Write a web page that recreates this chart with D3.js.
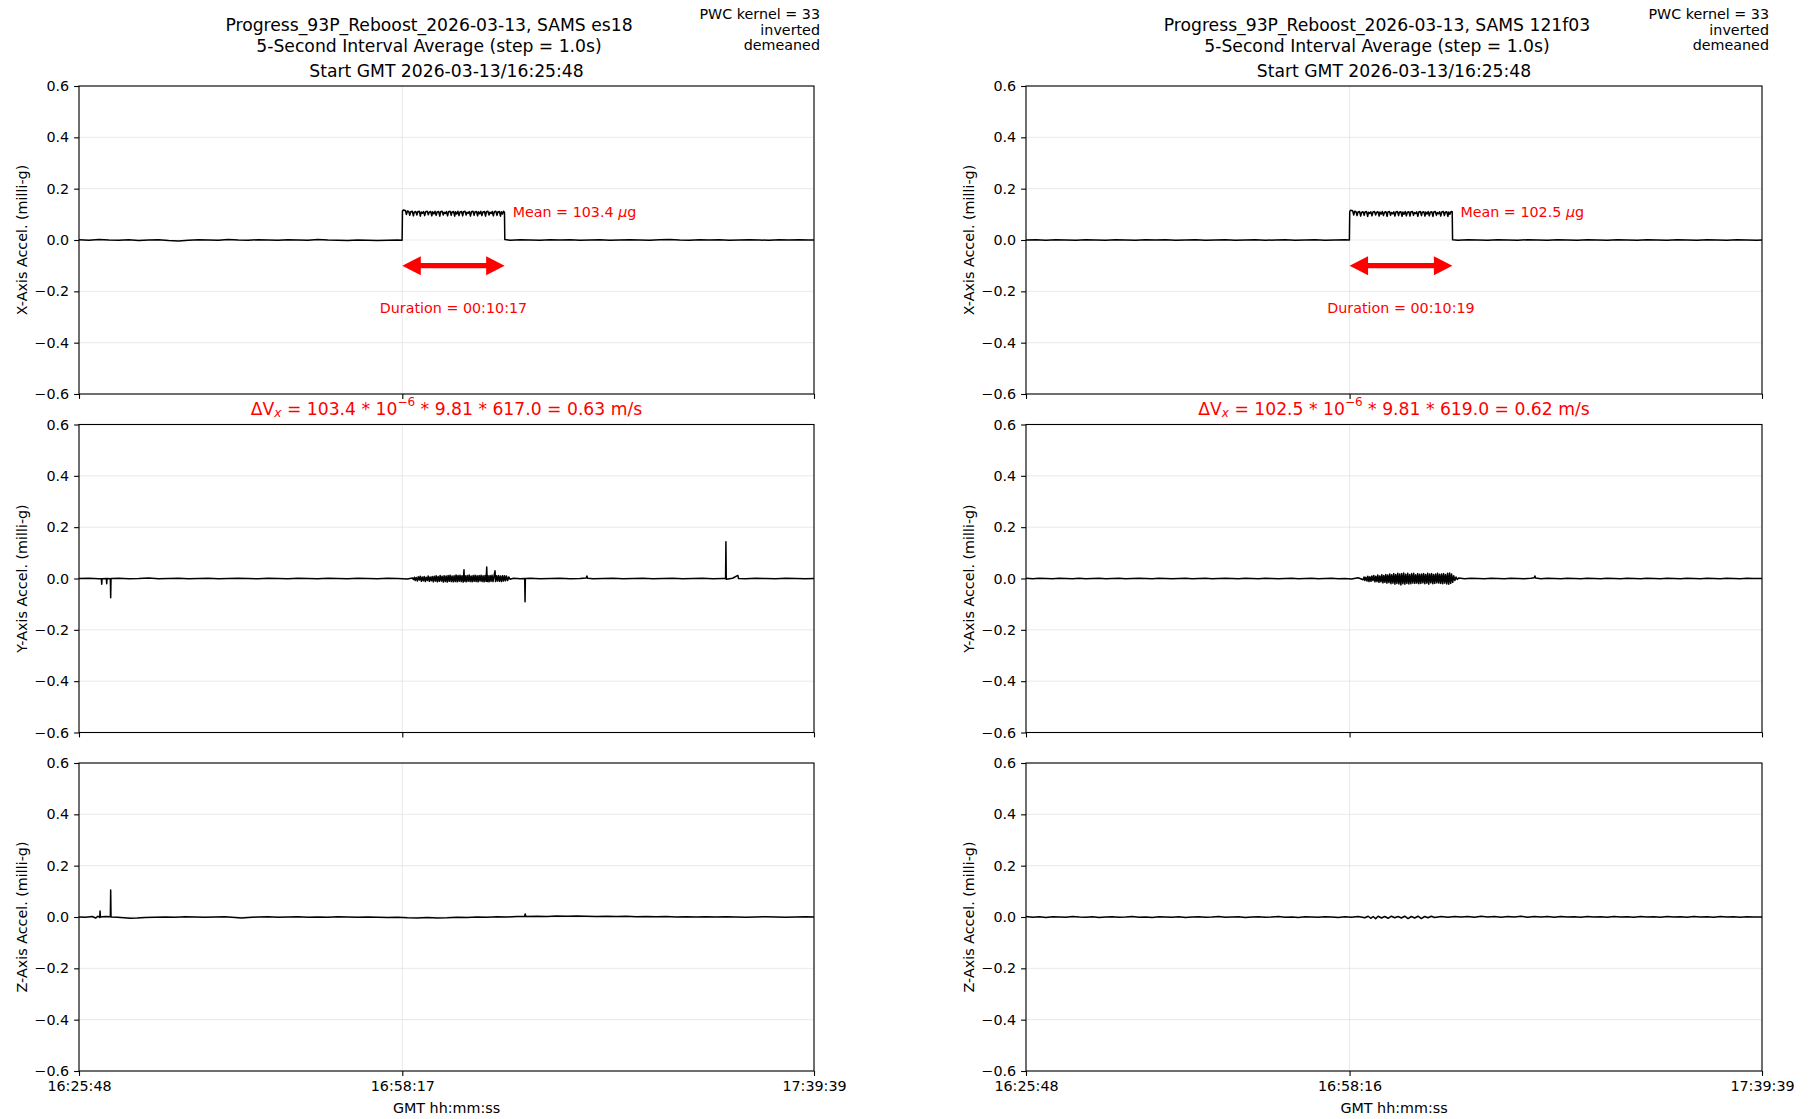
<!DOCTYPE html>
<html><head><meta charset="utf-8">
<script src="https://cdn.jsdelivr.net/npm/d3@7"></script>
<style>body{margin:0;background:#fff}svg{display:block;font-family:"DejaVu Sans",sans-serif}</style>
</head><body><svg id="c" width="1818" height="1119"></svg>
<script>
// ---------- data ----------
const yTicks = [-0.6, -0.4, -0.2, 0.0, 0.2, 0.4, 0.6];
const spanSeconds = 4431; // 16:25:48 -> 17:39:39
const leftTickSecs = [0, 1949, 4431];
const leftTickLabels = ["16:25:48", "16:58:17", "17:39:39"];
const rightTickSecs = [0, 1948, 4431];
const rightTickLabels = ["16:25:48", "16:58:16", "17:39:39"];

// SAMS es18 (time s from start, milli-g)
const es18X = [[0,0.001],[60,-0.001],[120,0.002],[180,0.000],[240,-0.001],[300,0.001],[360,-0.002],[420,0.000],[480,0.001],[540,-0.002],[600,-0.004],[660,-0.001],[720,0.001],[780,0.000],[840,-0.001],[900,0.002],[960,0.000],[1020,-0.001],[1080,0.001],[1140,0.000],[1200,-0.001],[1260,0.001],[1320,0.000],[1380,-0.001],[1440,0.002],[1500,0.000],[1560,-0.001],[1620,-0.002],[1680,0.000],[1740,-0.001],[1800,-0.002],[1860,-0.001],[1920,0.000],[1948,-0.001],
[1950,0.112],[1955,0.117],[1962,0.116],[1968,0.114],[1974,0.099],[1980,0.113],[1988,0.111],[1994,0.096],[2000,0.110],[2009,0.112],[2016,0.094],[2021,0.108],[2030,0.111],[2037,0.097],[2042,0.110],[2051,0.112],[2058,0.093],[2063,0.109],[2070,0.104],[2077,0.111],[2084,0.095],[2090,0.110],[2099,0.112],[2106,0.098],[2111,0.108],[2120,0.111],[2127,0.094],[2132,0.110],[2139,0.102],[2146,0.112],[2153,0.096],[2159,0.109],[2168,0.111],[2175,0.093],[2180,0.110],[2189,0.112],[2196,0.097],[2201,0.108],[2208,0.103],[2215,0.111],[2222,0.094],[2228,0.110],[2237,0.112],[2244,0.096],[2249,0.109],[2258,0.111],[2265,0.093],[2270,0.110],[2277,0.101],[2284,0.112],[2291,0.095],[2297,0.109],[2306,0.111],[2313,0.094],[2318,0.110],[2327,0.112],[2334,0.097],[2339,0.108],[2346,0.104],[2353,0.111],[2360,0.093],[2366,0.110],[2375,0.112],[2382,0.096],[2387,0.109],[2396,0.111],[2403,0.094],[2408,0.110],[2415,0.102],[2422,0.112],[2429,0.095],[2435,0.109],[2444,0.111],[2451,0.093],[2456,0.110],[2465,0.112],[2472,0.097],[2477,0.108],[2484,0.103],[2491,0.111],[2498,0.094],[2504,0.110],[2513,0.112],[2520,0.096],[2525,0.109],[2534,0.111],[2541,0.093],[2546,0.110],[2553,0.101],[2559,0.112],[2565,0.108],
[2567,0.002],[2600,-0.001],[2660,0.001],[2720,0.000],[2780,-0.001],[2840,0.001],[2900,0.000],[2960,0.001],[3020,-0.001],[3080,0.000],[3140,0.001],[3200,-0.001],[3260,0.000],[3320,0.001],[3380,0.000],[3440,-0.001],[3500,0.001],[3560,0.002],[3620,0.000],[3680,-0.001],[3740,0.001],[3800,0.000],[3860,0.001],[3920,-0.001],[3980,0.000],[4040,0.001],[4100,0.000],[4160,-0.001],[4220,0.001],[4280,0.000],[4340,0.001],[4400,0.000],[4431,0.000]];

const es18Y = [[0,0.000],[60,0.001],[120,-0.001],[135,-0.001],[137,-0.022],[139,-0.001],[165,0.000],[167,-0.020],[169,0.000],[189,-0.001],[191,-0.075],[193,0.000],[240,0.001],[300,-0.001],[360,0.000],[420,0.002],[480,-0.001],[540,0.000],[600,0.001],[660,-0.001],[720,0.000],[780,0.001],[840,-0.001],[900,0.000],[960,0.001],[1020,0.000],[1080,-0.001],[1140,0.001],[1200,0.000],[1260,-0.001],[1320,0.001],[1380,0.000],[1440,-0.001],[1500,0.001],[1560,0.000],[1620,-0.001],[1680,0.001],[1740,0.000],[1800,-0.001],[1860,0.001],[1920,0.000],[1980,-0.002],[2010,0.002],
[2016,-0.004],[2022,0.005],[2027,-0.008],[2033,0.004],[2040,-0.010],[2045,0.007],[2052,-0.006],[2057,0.009],[2064,-0.011],[2069,0.006],[2076,-0.009],[2081,0.008],[2088,-0.012],[2093,0.005],[2100,-0.008],[2105,0.010],[2112,-0.011],[2117,0.006],[2124,-0.009],[2129,0.008],[2136,-0.013],[2141,0.009],[2148,-0.010],[2153,0.011],[2160,-0.013],[2165,0.008],[2172,-0.011],[2177,0.012],[2184,-0.010],[2189,0.009],[2196,-0.014],[2201,0.011],[2208,-0.012],[2213,0.010],[2220,-0.014],[2225,0.012],[2232,-0.011],[2237,0.013],[2244,-0.012],[2249,0.010],[2256,-0.013],[2261,0.011],[2268,-0.012],[2273,0.014],[2280,-0.013],[2285,0.012],[2292,-0.011],[2297,0.013],[2304,-0.012],[2309,0.011],[2316,-0.014],[2319,0.012],[2321,0.034],[2323,-0.010],[2328,0.011],[2334,-0.013],[2340,0.012],[2346,-0.011],[2352,0.014],[2358,-0.012],[2364,0.010],[2370,-0.013],[2376,0.012],[2382,-0.011],[2388,0.013],[2394,-0.012],[2400,0.011],[2406,-0.013],[2412,0.012],[2418,-0.010],[2424,0.013],[2430,-0.012],[2436,0.011],[2442,-0.013],[2448,0.012],[2454,-0.011],[2458,0.045],[2461,-0.012],[2466,0.011],[2472,-0.013],[2478,0.012],[2484,-0.011],[2490,0.013],[2496,-0.012],[2502,0.010],[2508,0.030],[2511,-0.012],[2517,0.011],[2523,-0.010],[2529,0.012],[2535,-0.011],[2541,0.010],[2547,-0.012],[2553,0.011],[2559,-0.010],[2565,0.011],[2571,-0.009],[2577,0.010],[2584,-0.008],[2591,0.006],[2598,-0.003],
[2620,0.001],[2660,-0.001],[2687,0.000],[2689,-0.091],[2691,0.000],[2720,0.001],[2780,-0.001],[2840,0.000],[2900,0.001],[2960,-0.001],[3020,0.000],[3058,0.002],[3062,0.010],[3066,0.001],[3100,-0.001],[3160,0.000],[3220,0.001],[3280,-0.001],[3340,0.000],[3400,0.001],[3460,-0.001],[3520,0.000],[3580,0.001],[3640,-0.001],[3700,0.000],[3760,0.001],[3820,-0.001],[3880,0.000],[3898,0.000],[3900,0.143],[3902,-0.003],[3940,0.001],[3972,0.012],[3976,0.000],[4020,-0.001],[4080,0.001],[4140,0.000],[4200,-0.001],[4260,0.001],[4320,0.000],[4380,-0.001],[4431,0.000]];

const es18Z = [[0,0.000],[40,-0.001],[80,0.002],[100,-0.004],[115,0.003],[125,-0.002],[127,0.023],[129,0.000],[160,0.002],[189,0.001],[191,0.105],[193,0.000],[230,-0.001],[270,-0.003],[310,-0.005],[350,-0.004],[400,-0.002],[460,-0.001],[520,0.000],[580,-0.001],[640,0.001],[700,0.000],[760,-0.001],[820,0.000],[880,0.001],[940,-0.002],[980,-0.004],[1020,-0.002],[1080,0.000],[1140,0.001],[1200,-0.001],[1260,0.000],[1320,0.001],[1380,-0.001],[1440,0.000],[1500,-0.001],[1560,0.001],[1620,0.000],[1680,-0.001],[1740,0.000],[1800,-0.001],[1860,-0.002],[1920,-0.001],[1980,-0.003],[2040,-0.004],[2100,-0.002],[2160,-0.004],[2220,-0.003],[2280,-0.001],[2340,-0.002],[2400,0.000],[2460,-0.001],[2520,0.001],[2580,0.000],[2640,0.002],[2686,0.002],[2690,0.012],[2694,0.002],[2760,0.003],[2820,0.002],[2880,0.004],[2940,0.003],[3000,0.004],[3060,0.003],[3120,0.002],[3180,0.003],[3240,0.002],[3300,0.003],[3360,0.001],[3420,0.002],[3480,0.001],[3540,0.002],[3600,0.000],[3660,0.001],[3720,0.000],[3780,0.001],[3840,0.000],[3900,0.001],[3960,0.000],[4020,-0.001],[4080,0.000],[4140,0.001],[4200,0.000],[4260,-0.001],[4320,0.000],[4380,0.001],[4431,0.000]];

// SAMS 121f03
const f03X = [[0,0.000],[60,0.001],[120,-0.001],[180,0.001],[240,0.000],[300,-0.001],[360,0.001],[420,0.000],[480,-0.001],[540,0.001],[600,0.000],[660,-0.001],[720,0.001],[780,0.000],[840,0.001],[900,-0.001],[960,0.000],[1020,0.001],[1080,-0.001],[1140,0.000],[1200,0.001],[1260,-0.001],[1320,0.000],[1380,0.001],[1440,-0.001],[1500,0.000],[1560,0.001],[1620,-0.001],[1680,0.000],[1740,0.001],[1800,-0.001],[1860,0.000],[1920,0.001],[1947,0.000],
[1949,0.110],[1954,0.116],[1961,0.115],[1967,0.113],[1973,0.097],[1979,0.112],[1987,0.110],[1993,0.095],[1999,0.109],[2008,0.111],[2015,0.093],[2020,0.107],[2029,0.110],[2036,0.096],[2041,0.109],[2050,0.111],[2057,0.092],[2062,0.108],[2069,0.103],[2076,0.110],[2083,0.094],[2089,0.109],[2098,0.111],[2105,0.097],[2110,0.107],[2119,0.110],[2126,0.093],[2131,0.109],[2138,0.101],[2145,0.111],[2152,0.095],[2158,0.108],[2167,0.110],[2174,0.092],[2179,0.109],[2188,0.111],[2195,0.096],[2200,0.107],[2207,0.102],[2214,0.110],[2221,0.093],[2227,0.109],[2236,0.111],[2243,0.095],[2248,0.108],[2257,0.110],[2264,0.092],[2269,0.109],[2276,0.100],[2283,0.111],[2290,0.094],[2296,0.108],[2305,0.110],[2312,0.093],[2317,0.109],[2326,0.111],[2333,0.096],[2338,0.107],[2345,0.103],[2352,0.110],[2359,0.092],[2365,0.109],[2374,0.111],[2381,0.095],[2386,0.108],[2395,0.110],[2402,0.093],[2407,0.109],[2414,0.101],[2421,0.111],[2428,0.094],[2434,0.108],[2443,0.110],[2450,0.092],[2455,0.109],[2464,0.111],[2471,0.096],[2476,0.107],[2483,0.102],[2490,0.110],[2497,0.093],[2503,0.109],[2512,0.111],[2519,0.095],[2524,0.108],[2533,0.110],[2540,0.092],[2545,0.109],[2552,0.100],[2559,0.111],[2566,0.110],
[2568,0.001],[2600,-0.001],[2660,0.001],[2720,0.000],[2780,-0.001],[2840,0.001],[2900,0.000],[2960,-0.001],[3020,0.001],[3080,0.000],[3140,-0.001],[3200,0.001],[3260,0.000],[3320,-0.001],[3380,0.001],[3440,0.000],[3500,-0.001],[3560,0.001],[3620,0.000],[3680,-0.001],[3740,0.001],[3800,0.000],[3860,-0.001],[3920,0.001],[3980,0.000],[4040,-0.001],[4100,0.001],[4160,0.000],[4220,-0.001],[4280,0.001],[4340,0.000],[4400,-0.001],[4431,0.000]];

const f03Y = [[0,0.001],[40,-0.001],[80,0.001],[120,0.000],[160,-0.001],[200,0.001],[240,0.000],[280,-0.001],[320,0.001],[360,-0.001],[400,0.000],[440,0.001],[480,-0.001],[520,0.000],[560,0.001],[600,-0.001],[640,0.000],[680,0.001],[720,0.000],[760,-0.001],[800,0.001],[840,0.000],[880,-0.001],[920,0.000],[960,0.001],[1000,-0.001],[1040,0.000],[1080,0.001],[1120,-0.001],[1160,0.000],[1200,0.001],[1240,0.000],[1280,-0.001],[1320,0.001],[1360,0.000],[1400,-0.001],[1440,0.001],[1480,0.000],[1520,-0.001],[1560,0.000],[1600,0.001],[1640,-0.001],[1680,0.000],[1720,0.001],[1760,-0.001],[1800,0.000],[1840,0.001],[1880,-0.001],[1920,0.000],[1960,-0.002],[2000,0.003],
[2029,-0.005],[2035,0.006],[2040,-0.008],[2046,0.005],[2053,-0.010],[2058,0.009],[2065,-0.012],[2070,0.007],[2077,-0.011],[2082,0.010],[2089,-0.008],[2094,0.012],[2101,-0.013],[2106,0.009],[2113,-0.012],[2118,0.014],[2125,-0.015],[2130,0.010],[2137,-0.013],[2142,0.015],[2149,-0.017],[2154,0.012],[2161,-0.015],[2166,0.016],[2173,-0.018],[2178,0.014],[2185,-0.016],[2190,0.018],[2197,-0.020],[2202,0.015],[2209,-0.018],[2214,0.019],[2221,-0.022],[2226,0.016],[2233,-0.019],[2238,0.020],[2245,-0.021],[2250,0.018],[2257,-0.025],[2262,0.019],[2269,-0.020],[2274,0.021],[2281,-0.022],[2286,0.017],[2293,-0.019],[2298,0.020],[2305,-0.021],[2310,0.016],[2317,-0.020],[2322,0.019],[2329,-0.018],[2334,0.020],[2341,-0.019],[2346,0.015],[2353,-0.018],[2358,0.019],[2365,-0.020],[2370,0.017],[2377,-0.019],[2382,0.018],[2389,-0.017],[2394,0.019],[2401,-0.020],[2406,0.016],[2413,-0.018],[2418,0.020],[2425,-0.022],[2430,0.018],[2437,-0.017],[2442,0.019],[2449,-0.020],[2454,0.016],[2461,-0.019],[2466,0.018],[2473,-0.017],[2478,0.020],[2485,-0.018],[2490,0.017],[2497,-0.019],[2502,0.018],[2509,-0.020],[2514,0.019],[2521,-0.018],[2526,0.016],[2533,-0.021],[2538,0.020],[2545,-0.022],[2550,0.021],[2557,-0.019],[2562,0.018],[2569,-0.015],[2575,0.011],[2582,-0.008],[2589,0.006],[2596,-0.004],[2605,0.002],
[2640,-0.001],[2680,0.001],[2720,0.000],[2760,-0.001],[2800,0.001],[2840,0.000],[2880,-0.001],[2920,0.001],[2960,0.000],[3000,-0.001],[3040,0.001],[3060,0.003],[3064,0.010],[3068,0.002],[3100,-0.001],[3140,0.001],[3180,0.000],[3220,-0.001],[3260,0.001],[3300,0.000],[3340,-0.001],[3380,0.001],[3420,0.000],[3460,-0.001],[3500,0.001],[3540,0.000],[3580,-0.001],[3620,0.001],[3660,0.000],[3700,-0.001],[3740,0.001],[3780,0.000],[3820,-0.001],[3860,0.001],[3900,0.000],[3940,-0.001],[3980,0.001],[4020,0.000],[4060,-0.001],[4100,0.001],[4140,0.000],[4180,-0.001],[4220,0.001],[4260,0.000],[4300,-0.001],[4340,0.001],[4380,0.000],[4431,0.000]];

const f03Z = [[0,0.002],[40,-0.001],[80,0.001],[120,-0.002],[160,0.001],[200,0.000],[240,-0.001],[280,0.002],[320,0.000],[360,-0.001],[400,0.001],[440,-0.002],[480,0.000],[520,0.001],[560,-0.001],[600,0.000],[640,0.002],[680,-0.001],[720,0.000],[760,-0.002],[800,0.001],[840,0.000],[880,-0.001],[920,0.001],[960,-0.002],[1000,0.000],[1040,0.001],[1080,-0.001],[1120,0.000],[1160,0.002],[1200,-0.001],[1240,0.000],[1280,0.001],[1320,-0.002],[1360,0.000],[1400,0.001],[1440,-0.001],[1480,0.000],[1520,0.002],[1560,-0.001],[1600,0.000],[1640,-0.002],[1680,0.001],[1720,0.000],[1760,-0.001],[1800,0.001],[1840,0.000],[1880,-0.002],[1920,0.001],[1960,-0.001],[2000,0.002],[2040,-0.003],[2060,0.003],[2075,-0.005],[2090,0.002],[2105,-0.007],[2120,0.003],[2140,-0.004],[2160,0.002],[2180,-0.005],[2200,0.003],[2220,-0.003],[2240,0.002],[2260,-0.004],[2280,0.003],[2300,-0.006],[2320,0.002],[2340,-0.004],[2360,0.003],[2380,-0.006],[2400,0.002],[2420,-0.003],[2440,0.003],[2460,-0.002],[2500,0.002],[2540,-0.001],[2580,0.002],[2620,0.000],[2660,0.002],[2700,-0.001],[2740,0.003],[2780,0.000],[2820,0.002],[2860,-0.001],[2900,0.002],[2940,0.000],[2980,0.003],[3020,-0.001],[3060,0.002],[3100,0.000],[3140,0.002],[3180,-0.001],[3220,0.002],[3260,0.000],[3300,0.001],[3340,-0.001],[3380,0.002],[3420,0.000],[3460,0.001],[3500,-0.001],[3540,0.002],[3580,0.000],[3620,0.001],[3660,-0.001],[3700,0.002],[3740,0.000],[3780,0.001],[3820,-0.001],[3860,0.002],[3900,0.000],[3940,0.001],[3980,-0.001],[4020,0.002],[4060,0.000],[4100,0.001],[4140,-0.001],[4180,0.002],[4220,0.000],[4260,0.001],[4300,-0.001],[4340,0.001],[4380,0.000],[4431,0.000]];

const sensors = [
  {name:"es18", title1:"Progress_93P_Reboost_2026-03-13, SAMS es18", series:[es18X, es18Y, es18Z],
   tickSecs:leftTickSecs, tickLabels:leftTickLabels, boostStart:1949, boostEnd:2566, meanTxt:"103.4",
   duration:"00:10:17", dv:["103.4", "617.0", "0.63"]},
  {name:"121f03", title1:"Progress_93P_Reboost_2026-03-13, SAMS 121f03", series:[f03X, f03Y, f03Z],
   tickSecs:rightTickSecs, tickLabels:rightTickLabels, boostStart:1948, boostEnd:2567, meanTxt:"102.5",
   duration:"00:10:19", dv:["102.5", "619.0", "0.62"]}
];
const axisLabels = ["X-Axis Accel. (milli-g)", "Y-Axis Accel. (milli-g)", "Z-Axis Accel. (milli-g)"];

// ---------- layout ----------
const svg = d3.select("#c");
svg.append("rect").attr("width",1818).attr("height",1119).attr("fill","#fff");
const colX = [[79, 814], [1026, 1762]];
const titleCx = [429, 1377];
const pwcRight = [820, 1769];
const panelTop = [86, 424.5, 763];
const panelH = 308;
const FS = 14.3, FT = 17.2;

sensors.forEach((s, ci) => {
  const [x0, x1] = colX[ci];
  const cx = (x0 + x1) / 2;
  const xs = d3.scaleLinear().domain([0, spanSeconds]).range([x0, x1]);

  // header texts
  const hdr = svg.append("g").attr("font-size", FT).attr("fill", "#000").attr("text-anchor", "middle");
  hdr.append("text").attr("x", titleCx[ci]).attr("y", 25).attr("dominant-baseline","central").text(s.title1);
  hdr.append("text").attr("x", titleCx[ci]).attr("y", 45.5).attr("dominant-baseline","central").text("5-Second Interval Average (step = 1.0s)");
  hdr.append("text").attr("x", cx).attr("y", 71).attr("dominant-baseline","central").text("Start GMT 2026-03-13/16:25:48");
  const pwc = svg.append("g").attr("font-size", FS).attr("text-anchor","end");
  ["PWC kernel = 33", "inverted", "demeaned"].forEach((t, i) =>
    pwc.append("text").attr("x", pwcRight[ci]).attr("y", 14 + i * 15.5).attr("dominant-baseline","central").text(t));

  s.series.forEach((data, pi) => {
    const top = panelTop[pi];
    const ys = d3.scaleLinear().domain([-0.6, 0.6]).range([top + panelH, top]);
    const g = svg.append("g");

    // grid
    g.selectAll(".gy").data(yTicks).join("line")
      .attr("x1", x0).attr("x2", x1).attr("y1", d => ys(d)).attr("y2", d => ys(d))
      .attr("stroke", "#e3e3e3").attr("stroke-width", 0.8);
    g.selectAll(".gx").data(s.tickSecs).join("line")
      .attr("x1", d => xs(d)).attr("x2", d => xs(d)).attr("y1", top).attr("y2", top + panelH)
      .attr("stroke", "#e3e3e3").attr("stroke-width", 0.8);

    // data line
    g.append("path").datum(data)
      .attr("d", d3.line().x(d => xs(d[0])).y(d => ys(d[1])))
      .attr("fill", "none").attr("stroke", "#000").attr("stroke-width", 1.5).attr("stroke-linejoin","round");

    // frame
    g.append("rect").attr("x", x0).attr("y", top).attr("width", x1 - x0).attr("height", panelH)
      .attr("fill", "none").attr("stroke", "#000").attr("stroke-width", 1.1);

    // y axis
    const ya = d3.axisLeft(ys).tickValues(yTicks).tickSize(4.9).tickPadding(4.9).tickFormat(d3.format(".1f"));
    const yg = g.append("g").attr("transform", `translate(${x0},0)`).call(ya);
    yg.select(".domain").remove();
    yg.selectAll("line").attr("stroke-width", 1.1);
    yg.selectAll("text").attr("font-size", FS).attr("font-family", "DejaVu Sans").attr("fill","#000");

    // x axis
    const xa = d3.axisBottom(xs).tickValues(s.tickSecs).tickSize(4.9).tickPadding(4.9)
      .tickFormat((d, i) => pi === 2 ? s.tickLabels[i] : "");
    const xg = g.append("g").attr("transform", `translate(0,${top + panelH})`).call(xa);
    xg.select(".domain").remove();
    xg.selectAll("line").attr("stroke-width", 1.1);
    xg.selectAll("text").attr("font-size", FS).attr("font-family", "DejaVu Sans").attr("fill","#000");

    // y label
    g.append("text").attr("transform", `translate(${x0 - 57},${top + panelH / 2}) rotate(-90)`)
      .attr("text-anchor", "middle").attr("dominant-baseline","central").attr("font-size", FS).text(axisLabels[pi]);

    if (pi === 0) {
      const mt = g.append("text").attr("x", xs(s.boostEnd) + 8).attr("y", ys(0.11))
        .attr("dominant-baseline","central").attr("font-size", FS).attr("fill", "#ff0000");
      mt.append("tspan").text("Mean = " + s.meanTxt + " ");
      mt.append("tspan").attr("font-style","italic").text("μ");
      mt.append("tspan").text("g");
      const ax0 = xs(s.boostStart), ax1 = xs(s.boostEnd), ay = ys(-0.1);
      const hl = 18.5, hw = 9.5, sw = 2.6;
      const pts = [[ax0, ay],[ax0 + hl, ay - hw],[ax0 + hl, ay - sw],[ax1 - hl, ay - sw],[ax1 - hl, ay - hw],
                   [ax1, ay],[ax1 - hl, ay + hw],[ax1 - hl, ay + sw],[ax0 + hl, ay + sw],[ax0 + hl, ay + hw]];
      g.append("path").attr("d", d3.line()(pts) + "Z").attr("fill", "#ff0000");
      g.append("text").attr("x", (ax0 + ax1) / 2).attr("y", ys(-0.265)).attr("text-anchor","middle")
        .attr("dominant-baseline","central").attr("font-size", FS).attr("fill","#ff0000")
        .text("Duration = " + s.duration);
    }
    if (pi === 1) {
      const t = g.append("text").attr("x", cx).attr("y", top - 16).attr("text-anchor","middle")
        .attr("dominant-baseline","central").attr("font-size", FT).attr("fill","#ff0000");
      t.append("tspan").text("ΔV");
      t.append("tspan").attr("font-style","italic").attr("font-size", FT * 0.7).attr("dy", 4).text("x");
      t.append("tspan").attr("dy", -4).text(" = " + s.dv[0] + " * 10");
      t.append("tspan").attr("font-size", FT * 0.7).attr("dy", -7).text("−6");
      t.append("tspan").attr("dy", 7).text(" * 9.81 * " + s.dv[1] + " = " + s.dv[2] + " m/s");
    }
  });

  svg.append("text").attr("x", cx).attr("y", 1108).attr("text-anchor","middle").attr("dominant-baseline","central")
    .attr("font-size", FS).text("GMT hh:mm:ss");
});
</script></body></html>
